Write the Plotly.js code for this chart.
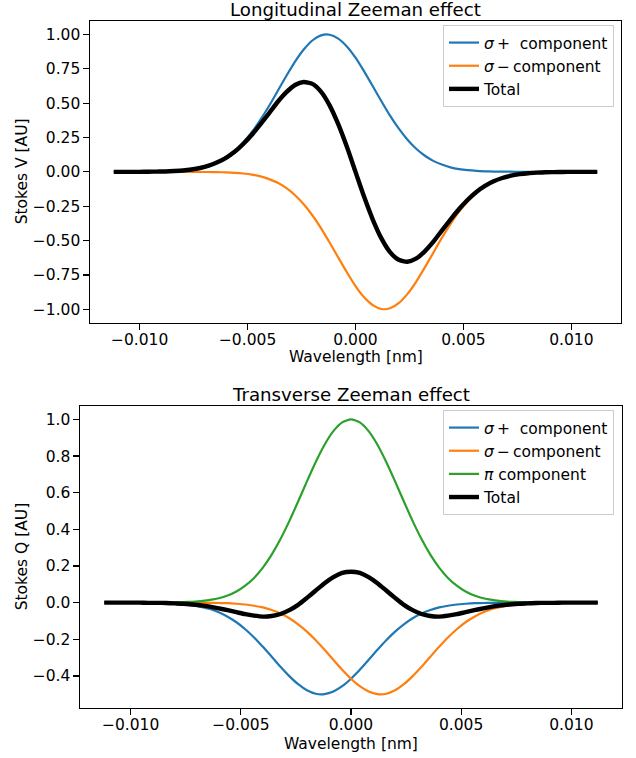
<!DOCTYPE html>
<html>
<head>
<meta charset="utf-8">
<script src="https://cdn.plot.ly/plotly-3.0.1.min.js"></script>
<style>
  html, body { margin: 0; padding: 0; background: #ffffff; }
  #chart { width: 636px; height: 758px; }
</style>
</head>
<body>
<div id="chart"></div>
<script>
// ---- Data ----
const wavelength = [-0.0112,-0.0108,-0.0104,-0.0100,-0.0096,-0.0092,-0.0088,-0.0084,-0.0080,-0.0076,-0.0072,-0.0068,-0.0064,-0.0060,-0.0056,-0.0052,-0.0048,-0.0044,-0.0040,-0.0036,-0.0032,-0.0028,-0.0024,-0.0020,-0.0016,-0.0012,-0.0008,-0.0004,0,0.0004,0.0008,0.0012,0.0016,0.0020,0.0024,0.0028,0.0032,0.0036,0.0040,0.0044,0.0048,0.0052,0.0056,0.0060,0.0064,0.0068,0.0072,0.0076,0.0080,0.0084,0.0088,0.0092,0.0096,0.0100,0.0104,0.0108,0.0112];

// Longitudinal Zeeman effect (Stokes V)
const longSigmaPlus = [0,0,0,0,0.001,0.002,0.003,0.006,0.010,0.017,0.029,0.046,0.071,0.106,0.153,0.215,0.290,0.380,0.481,0.590,0.699,0.802,0.890,0.956,0.993,0.998,0.970,0.913,0.831,0.731,0.623,0.514,0.409,0.316,0.236,0.170,0.119,0.080,0.053,0.033,0.020,0.012,0.007,0.004,0.002,0.001,0.001,0,0,0,0,0,0,0,0,0,0];
const longSigmaMinus = [0,0,0,0,0,0,0,0,0,0,-0.001,-0.001,-0.002,-0.004,-0.007,-0.012,-0.020,-0.033,-0.053,-0.080,-0.119,-0.170,-0.236,-0.316,-0.409,-0.514,-0.623,-0.731,-0.831,-0.913,-0.970,-0.998,-0.993,-0.956,-0.890,-0.802,-0.699,-0.590,-0.481,-0.380,-0.290,-0.215,-0.153,-0.106,-0.071,-0.046,-0.029,-0.017,-0.010,-0.006,-0.003,-0.002,-0.001,0,0,0,0];
const longTotal = [0,0,0,0,0.001,0.002,0.003,0.006,0.010,0.017,0.028,0.045,0.069,0.102,0.146,0.203,0.270,0.347,0.428,0.510,0.580,0.632,0.654,0.640,0.584,0.484,0.347,0.182,0,-0.182,-0.347,-0.484,-0.584,-0.640,-0.654,-0.632,-0.580,-0.510,-0.428,-0.347,-0.270,-0.203,-0.146,-0.102,-0.069,-0.045,-0.028,-0.017,-0.010,-0.006,-0.003,-0.002,-0.001,0,0,0,0];

// Transverse Zeeman effect (Stokes Q)
const transSigmaPlus = [0,0,0,0,-0.001,-0.001,-0.002,-0.003,-0.005,-0.009,-0.014,-0.023,-0.035,-0.053,-0.077,-0.107,-0.145,-0.190,-0.241,-0.295,-0.350,-0.401,-0.445,-0.478,-0.497,-0.499,-0.485,-0.456,-0.415,-0.366,-0.312,-0.257,-0.205,-0.158,-0.118,-0.085,-0.059,-0.040,-0.026,-0.017,-0.010,-0.006,-0.003,-0.002,-0.001,-0.001,0,0,0,0,0,0,0,0,0,0,0];
const transSigmaMinus = [0,0,0,0,0,0,0,0,0,0,0,-0.001,-0.001,-0.002,-0.003,-0.006,-0.010,-0.017,-0.026,-0.040,-0.059,-0.085,-0.118,-0.158,-0.205,-0.257,-0.312,-0.366,-0.415,-0.456,-0.485,-0.499,-0.497,-0.478,-0.445,-0.401,-0.350,-0.295,-0.241,-0.190,-0.145,-0.107,-0.077,-0.053,-0.035,-0.023,-0.014,-0.009,-0.005,-0.003,-0.002,-0.001,-0.001,0,0,0,0];
const transPi = [0,0,0,0,0,0,0,0.001,0.001,0.003,0.005,0.008,0.015,0.024,0.039,0.061,0.093,0.135,0.191,0.262,0.347,0.445,0.552,0.662,0.768,0.862,0.936,0.984,1,0.984,0.936,0.862,0.768,0.662,0.552,0.445,0.347,0.262,0.191,0.135,0.093,0.061,0.039,0.024,0.015,0.008,0.005,0.003,0.001,0.001,0,0,0,0,0,0,0];
const transTotal = [0,0,0,0,0,-0.001,-0.001,-0.002,-0.004,-0.006,-0.010,-0.015,-0.022,-0.031,-0.041,-0.052,-0.063,-0.071,-0.076,-0.073,-0.062,-0.041,-0.012,0.026,0.066,0.106,0.139,0.162,0.169,0.162,0.139,0.106,0.066,0.026,-0.012,-0.041,-0.062,-0.073,-0.076,-0.071,-0.063,-0.052,-0.041,-0.031,-0.022,-0.015,-0.010,-0.006,-0.004,-0.002,-0.001,-0.001,0,0,0,0,0];

const labelSigmaPlus = '<i>σ</i>\u2009+\u00a0\u00a0component';
const labelSigmaMinus = '<i>σ</i>\u2009−\u2009component';
const labelPi = '<i>π</i> component';
const labelTotal = 'Total';

const topTitle = 'Longitudinal Zeeman effect';
const bottomTitle = 'Transverse Zeeman effect';
const xLabel = 'Wavelength [nm]';
const topYLabel = 'Stokes V [AU]';
const bottomYLabel = 'Stokes Q [AU]';

const xTicks = [-0.010, -0.005, 0.000, 0.005, 0.010];

// ---- Styling ----
const FONT = 'DejaVu Sans';
const FS = 15.5;
const C_BLUE = '#1f77b4', C_ORANGE = '#ff7f0e', C_GREEN = '#2ca02c';
const THIN = 2.2, THICK = 4.4;

function tr(y, name, color, width, xa, ya, legend) {
  return {
    x: wavelength, y: y, name: name, type: 'scatter', mode: 'lines',
    line: {color: color, width: width, shape: 'spline', smoothing: 0.6},
    xaxis: xa, yaxis: ya, legend: legend, hoverinfo: 'skip'
  };
}

const data = [
  tr(longSigmaPlus, labelSigmaPlus, C_BLUE, THIN, 'x', 'y', 'legend'),
  tr(longSigmaMinus, labelSigmaMinus, C_ORANGE, THIN, 'x', 'y', 'legend'),
  tr(longTotal, labelTotal, '#000000', THICK, 'x', 'y', 'legend'),
  tr(transSigmaPlus, labelSigmaPlus, C_BLUE, THIN, 'x2', 'y2', 'legend2'),
  tr(transSigmaMinus, labelSigmaMinus, C_ORANGE, THIN, 'x2', 'y2', 'legend2'),
  tr(transPi, labelPi, C_GREEN, THIN, 'x2', 'y2', 'legend2'),
  tr(transTotal, labelTotal, '#000000', THICK, 'x2', 'y2', 'legend2')
];

const W = 636, H = 758;
const px = v => v / W;
const py = v => 1 - v / H;

const axisCommon = {
  showline: true, mirror: true, linecolor: '#000000', linewidth: 1.2,
  ticks: 'outside', ticklen: 5.4, tickwidth: 1.2, tickcolor: '#000000',
  showgrid: false, zeroline: false,
  tickfont: {family: FONT, size: FS, color: '#000000'}
};

const boxTop = {l: 90, r: 621, t: 20.7, b: 323};
const boxBot = {l: 80, r: 622, t: 405.7, b: 708};

const layout = {
  width: W, height: H,
  margin: {l: 0, r: 0, t: 0, b: 0, pad: 0},
  paper_bgcolor: '#ffffff', plot_bgcolor: '#ffffff',
  font: {family: FONT, size: FS, color: '#000000'},
  showlegend: true,
  xaxis: Object.assign({}, axisCommon, {
    domain: [px(boxTop.l), px(boxTop.r)], anchor: 'y',
    range: [-0.0123, 0.0123], tickvals: xTicks, tickformat: '.3f', ticklabelstandoff: -3
  }),
  yaxis: Object.assign({}, axisCommon, {
    domain: [py(boxTop.b), py(boxTop.t)], anchor: 'x',
    range: [-1.1, 1.1], tick0: 0, dtick: 0.25, tickformat: '.2f'
  }),
  xaxis2: Object.assign({}, axisCommon, {
    domain: [px(boxBot.l), px(boxBot.r)], anchor: 'y2',
    range: [-0.0123, 0.0123], tickvals: xTicks, tickformat: '.3f', ticklabelstandoff: -3
  }),
  yaxis2: Object.assign({}, axisCommon, {
    domain: [py(boxBot.b), py(boxBot.t)], anchor: 'x2',
    range: [-0.575, 1.075], tick0: 0, dtick: 0.2, tickformat: '.1f'
  }),
  legend: {
    x: px(614), xanchor: 'right', y: py(25), yanchor: 'top',
    bgcolor: 'rgba(255,255,255,0.8)', bordercolor: '#cccccc', borderwidth: 1,
    font: {family: FONT, size: FS, color: '#000000'}
  },
  legend2: {
    x: px(614), xanchor: 'right', y: py(410), yanchor: 'top',
    bgcolor: 'rgba(255,255,255,0.8)', bordercolor: '#cccccc', borderwidth: 1,
    font: {family: FONT, size: FS, color: '#000000'}
  },
  annotations: [
    {text: topTitle, xref: 'paper', yref: 'paper', x: px((boxTop.l + boxTop.r) / 2), y: py(9.8),
     xanchor: 'center', yanchor: 'middle', showarrow: false, font: {family: FONT, size: 18.2, color: '#000'}},
    {text: bottomTitle, xref: 'paper', yref: 'paper', x: px((boxBot.l + boxBot.r) / 2), y: py(394.5),
     xanchor: 'center', yanchor: 'middle', showarrow: false, font: {family: FONT, size: 18.2, color: '#000'}},
    {text: xLabel, xref: 'paper', yref: 'paper', x: px((boxTop.l + boxTop.r) / 2), y: py(357),
     xanchor: 'center', yanchor: 'middle', showarrow: false, font: {family: FONT, size: FS, color: '#000'}},
    {text: xLabel, xref: 'paper', yref: 'paper', x: px((boxBot.l + boxBot.r) / 2), y: py(743.5),
     xanchor: 'center', yanchor: 'middle', showarrow: false, font: {family: FONT, size: FS, color: '#000'}},
    {text: topYLabel, xref: 'paper', yref: 'paper', x: px(21.5), y: py((boxTop.t + boxTop.b) / 2),
     xanchor: 'center', yanchor: 'middle', textangle: -90, showarrow: false, font: {family: FONT, size: FS, color: '#000'}},
    {text: bottomYLabel, xref: 'paper', yref: 'paper', x: px(21.5), y: py((boxBot.t + boxBot.b) / 2),
     xanchor: 'center', yanchor: 'middle', textangle: -90, showarrow: false, font: {family: FONT, size: FS, color: '#000'}}
  ]
};

Plotly.newPlot('chart', data, layout, {staticPlot: true, displayModeBar: false});
</script>
</body>
</html>
